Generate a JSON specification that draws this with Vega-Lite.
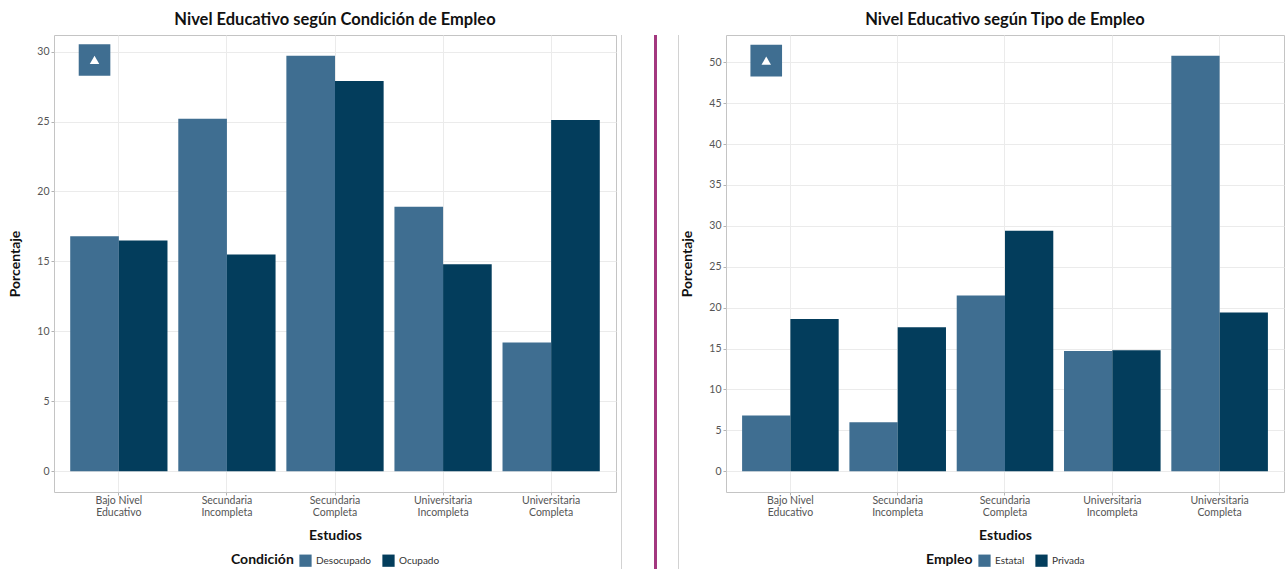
{
  "$schema": "https://vega.github.io/schema/vega-lite/v6.json",
  "background": "white",
  "padding": {"left": 8, "top": 11, "right": 0, "bottom": 0},
  "config": {
    "font": "Lato",
    "view": {"stroke": "#c4c4c4", "strokeWidth": 1},
    "title": {"font": "Lato", "fontSize": 16.5, "fontWeight": "bold", "color": "#111111", "anchor": "middle", "offset": 7},
    "axis": {
      "labelFont": "Lato", "labelFontSize": 10.5, "labelColor": "#555555",
      "tickColor": "#b3b3b3", "tickSize": 3, "domain": false,
      "gridColor": "#ebebeb",
      "titleFont": "Lato", "titleFontSize": 14, "titleFontWeight": "bold", "titleColor": "#111111"
    },
    "legend": {
      "orient": "bottom", "direction": "horizontal", "titleOrient": "left",
      "titleFont": "Lato", "titleFontSize": 14, "titleFontWeight": "bold", "titleColor": "#111111",
      "labelFont": "Lato", "labelFontSize": 10, "labelColor": "#333333",
      "symbolType": "square", "symbolSize": 150, "symbolStrokeWidth": 0, "symbolOpacity": 1,
      "columnPadding": 10, "offset": 11,
      "layout": {"bottom": {"anchor": "middle"}}
    },
    "concat": {"spacing": 0}
  },
  "datasets": {
    "condicion": [
      {"estudios": "Bajo Nivel Educativo", "condicion": "Desocupado", "porcentaje": 16.8},
      {"estudios": "Bajo Nivel Educativo", "condicion": "Ocupado", "porcentaje": 16.5},
      {"estudios": "Secundaria Incompleta", "condicion": "Desocupado", "porcentaje": 25.2},
      {"estudios": "Secundaria Incompleta", "condicion": "Ocupado", "porcentaje": 15.5},
      {"estudios": "Secundaria Completa", "condicion": "Desocupado", "porcentaje": 29.7},
      {"estudios": "Secundaria Completa", "condicion": "Ocupado", "porcentaje": 27.9},
      {"estudios": "Universitaria Incompleta", "condicion": "Desocupado", "porcentaje": 18.9},
      {"estudios": "Universitaria Incompleta", "condicion": "Ocupado", "porcentaje": 14.8},
      {"estudios": "Universitaria Completa", "condicion": "Desocupado", "porcentaje": 9.2},
      {"estudios": "Universitaria Completa", "condicion": "Ocupado", "porcentaje": 25.1}
    ],
    "tipo": [
      {"estudios": "Bajo Nivel Educativo", "empleo": "Estatal", "porcentaje": 6.8},
      {"estudios": "Bajo Nivel Educativo", "empleo": "Privada", "porcentaje": 18.6},
      {"estudios": "Secundaria Incompleta", "empleo": "Estatal", "porcentaje": 6.0},
      {"estudios": "Secundaria Incompleta", "empleo": "Privada", "porcentaje": 17.6},
      {"estudios": "Secundaria Completa", "empleo": "Estatal", "porcentaje": 21.5},
      {"estudios": "Secundaria Completa", "empleo": "Privada", "porcentaje": 29.4},
      {"estudios": "Universitaria Incompleta", "empleo": "Estatal", "porcentaje": 14.7},
      {"estudios": "Universitaria Incompleta", "empleo": "Privada", "porcentaje": 14.8},
      {"estudios": "Universitaria Completa", "empleo": "Estatal", "porcentaje": 50.8},
      {"estudios": "Universitaria Completa", "empleo": "Privada", "porcentaje": 19.4}
    ],
    "logo_condicion": [
      {"estudios": "Bajo Nivel Educativo", "condicion": "Desocupado", "porcentaje": 29.4}
    ],
    "logo_tipo": [
      {"estudios": "Bajo Nivel Educativo", "empleo": "Estatal", "porcentaje": 50.2}
    ]
  },
  "resolve": {
    "scale": {"color": "independent", "x": "independent", "y": "independent", "xOffset": "independent"},
    "legend": {"color": "independent"}
  },
  "hconcat": [
    {
      "width": 562, "height": 457,
      "title": "Nivel Educativo según Condición de Empleo",
      "layer": [
        {
          "data": {"name": "condicion"},
          "mark": {"type": "bar"},
          "encoding": {
            "x": {
              "field": "estudios", "type": "nominal",
              "sort": ["Bajo Nivel Educativo", "Secundaria Incompleta", "Secundaria Completa", "Universitaria Incompleta", "Universitaria Completa"],
              "scale": {"paddingInner": 0.1, "paddingOuter": 0.15},
              "axis": {
                "title": "Estudios", "labelAngle": 0, "grid": true, "titlePadding": 11, "labelLineHeight": 12, "labelPadding": 0,
                "labelExpr": "datum.value == 'Bajo Nivel Educativo' ? ['Bajo Nivel', 'Educativo'] : split(datum.value, ' ')"
              }
            },
            "xOffset": {"field": "condicion", "type": "nominal", "sort": ["Desocupado", "Ocupado"]},
            "y": {
              "field": "porcentaje", "type": "quantitative",
              "scale": {"domain": [-1.485, 31.185], "nice": false, "zero": false},
              "axis": {
                "title": "Porcentaje", "titlePadding": 14,
                "values": [0, 2.5, 5, 7.5, 10, 12.5, 15, 17.5, 20, 22.5, 25, 27.5, 30],
                "labelExpr": "datum.value % 5 == 0 ? datum.label : ''",
                "tickOpacity": {"condition": {"test": "datum.value % 5 != 0", "value": 0}, "value": 1},
                "gridWidth": {"condition": {"test": "datum.value % 5 != 0", "value": 0.5}, "value": 1}
              }
            },
            "color": {
              "field": "condicion", "type": "nominal", "title": "Condición",
              "scale": {"domain": ["Desocupado", "Ocupado"], "range": ["#3f6e91", "#033d5c"]}
            }
          }
        },
        {
          "data": {"name": "logo_condicion"},
          "mark": {"type": "point", "shape": "square", "filled": true, "size": 1000, "color": "#3f6e91", "opacity": 1, "dx": -10},
          "encoding": {
            "x": {"field": "estudios", "type": "nominal", "sort": ["Bajo Nivel Educativo", "Secundaria Incompleta", "Secundaria Completa", "Universitaria Incompleta", "Universitaria Completa"]},
            "xOffset": {"field": "condicion", "type": "nominal", "sort": ["Desocupado", "Ocupado"]},
            "y": {"field": "porcentaje", "type": "quantitative"}
          }
        },
        {
          "data": {"name": "logo_condicion"},
          "mark": {"type": "point", "shape": "triangle-up", "filled": true, "size": 90, "color": "white", "opacity": 1, "dx": -10},
          "encoding": {
            "x": {"field": "estudios", "type": "nominal", "sort": ["Bajo Nivel Educativo", "Secundaria Incompleta", "Secundaria Completa", "Universitaria Incompleta", "Universitaria Completa"]},
            "xOffset": {"field": "condicion", "type": "nominal", "sort": ["Desocupado", "Ocupado"]},
            "y": {"field": "porcentaje", "type": "quantitative"}
          }
        }
      ]
    },
    {"width": 4, "height": 10, "view": {"stroke": null}, "data": {"values": []}, "mark": "rule", "encoding": {}},
    {"width": 1, "height": 558, "view": {"stroke": null, "fill": "#d2d2d2"}, "data": {"values": []}, "mark": "rule", "encoding": {}},
    {"width": 32, "height": 10, "view": {"stroke": null}, "data": {"values": []}, "mark": "rule", "encoding": {}},
    {"width": 3, "height": 545, "view": {"stroke": null, "fill": "#a3387f"}, "data": {"values": []}, "mark": "rule", "encoding": {}},
    {"width": 21, "height": 10, "view": {"stroke": null}, "data": {"values": []}, "mark": "rule", "encoding": {}},
    {"width": 1, "height": 558, "view": {"stroke": null, "fill": "#d2d2d2"}, "data": {"values": []}, "mark": "rule", "encoding": {}},
    {"width": 1, "height": 10, "view": {"stroke": null}, "data": {"values": []}, "mark": "rule", "encoding": {}},
    {
      "width": 558, "height": 457,
      "title": "Nivel Educativo según Tipo de Empleo",
      "layer": [
        {
          "data": {"name": "tipo"},
          "mark": {"type": "bar"},
          "encoding": {
            "x": {
              "field": "estudios", "type": "nominal",
              "sort": ["Bajo Nivel Educativo", "Secundaria Incompleta", "Secundaria Completa", "Universitaria Incompleta", "Universitaria Completa"],
              "scale": {"paddingInner": 0.1, "paddingOuter": 0.15},
              "axis": {
                "title": "Estudios", "labelAngle": 0, "grid": true, "titlePadding": 11, "labelLineHeight": 12, "labelPadding": 0,
                "labelExpr": "datum.value == 'Bajo Nivel Educativo' ? ['Bajo Nivel', 'Educativo'] : split(datum.value, ' ')"
              }
            },
            "xOffset": {"field": "empleo", "type": "nominal", "sort": ["Estatal", "Privada"]},
            "y": {
              "field": "porcentaje", "type": "quantitative",
              "scale": {"domain": [-2.54, 53.34], "nice": false, "zero": false},
              "axis": {
                "title": "Porcentaje", "titlePadding": 14,
                "values": [0, 2.5, 5, 7.5, 10, 12.5, 15, 17.5, 20, 22.5, 25, 27.5, 30, 32.5, 35, 37.5, 40, 42.5, 45, 47.5, 50, 52.5],
                "labelExpr": "datum.value % 5 == 0 ? datum.label : ''",
                "tickOpacity": {"condition": {"test": "datum.value % 5 != 0", "value": 0}, "value": 1},
                "gridWidth": {"condition": {"test": "datum.value % 5 != 0", "value": 0.5}, "value": 1}
              }
            },
            "color": {
              "field": "empleo", "type": "nominal", "title": "Empleo",
              "scale": {"domain": ["Estatal", "Privada"], "range": ["#3f6e91", "#033d5c"]}
            }
          }
        },
        {
          "data": {"name": "logo_tipo"},
          "mark": {"type": "point", "shape": "square", "filled": true, "size": 1000, "color": "#3f6e91", "opacity": 1},
          "encoding": {
            "x": {"field": "estudios", "type": "nominal", "sort": ["Bajo Nivel Educativo", "Secundaria Incompleta", "Secundaria Completa", "Universitaria Incompleta", "Universitaria Completa"]},
            "xOffset": {"field": "empleo", "type": "nominal", "sort": ["Estatal", "Privada"]},
            "y": {"field": "porcentaje", "type": "quantitative"}
          }
        },
        {
          "data": {"name": "logo_tipo"},
          "mark": {"type": "point", "shape": "triangle-up", "filled": true, "size": 90, "color": "white", "opacity": 1},
          "encoding": {
            "x": {"field": "estudios", "type": "nominal", "sort": ["Bajo Nivel Educativo", "Secundaria Incompleta", "Secundaria Completa", "Universitaria Incompleta", "Universitaria Completa"]},
            "xOffset": {"field": "empleo", "type": "nominal", "sort": ["Estatal", "Privada"]},
            "y": {"field": "porcentaje", "type": "quantitative"}
          }
        }
      ]
    }
  ]
}
